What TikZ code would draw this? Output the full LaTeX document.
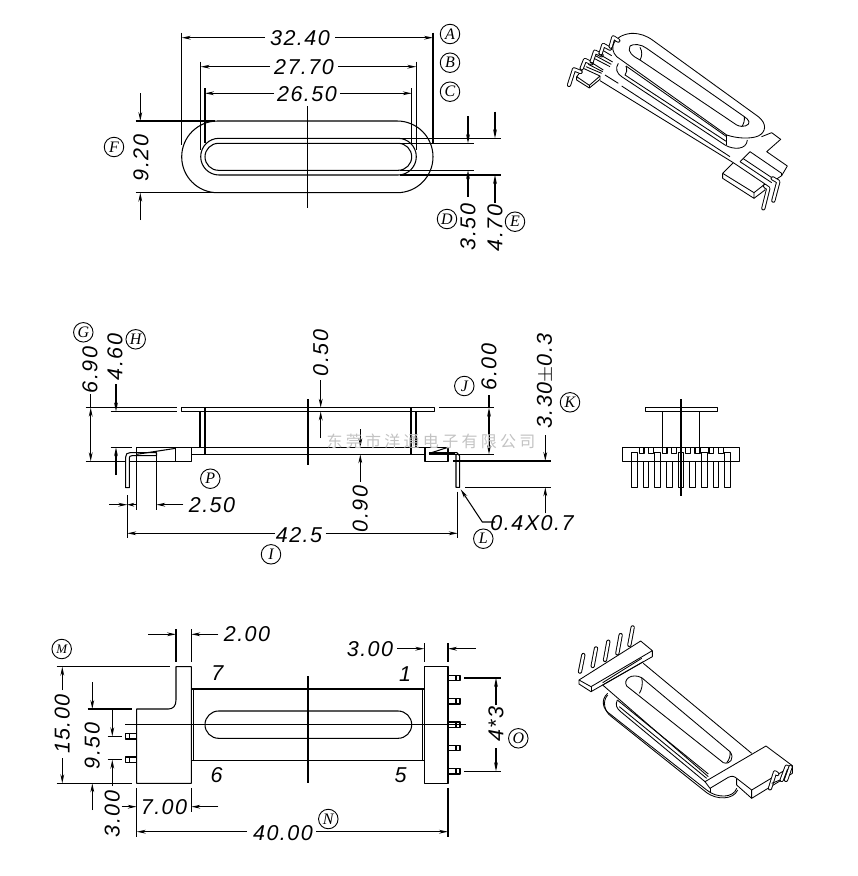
\documentclass[tikz,border=0pt]{standalone}
\usepackage{fontspec}
\usetikzlibrary{arrows.meta}
\setmainfont[LetterSpace=7]{Liberation Sans}
\newfontfamily\cjkfont{Noto Sans CJK SC}
\newfontfamily\tagfont{Liberation Serif}
\tikzset{
 ln/.style={line width=1.05pt,line join=round},
 arr/.style={ln,-{Stealth[length=9pt,width=3.8pt]}},
 dbl/.style={ln,{Stealth[length=9pt,width=3.8pt]}-{Stealth[length=9pt,width=3.8pt]}},
 dimt/.style={inner sep=0pt,font=\fontsize{21.5}{21.5}\selectfont\itshape},
 dimv/.style={dimt,rotate=90},
 tag/.style={circle,draw,line width=0.9pt,minimum size=19.5pt,inner sep=0pt,font=\tagfont\fontsize{16}{16}\selectfont\itshape},
 pinl/.style={line width=0.95pt,double,double distance=2.3pt,line cap=round,line join=round},
 iso/.style={line width=0.85pt,line join=round},
}
\begin{document}
\begin{tikzpicture}[x=1pt,y=-1pt]
\useasboundingbox (0,0) rectangle (858,876);
% ---------- top view
\draw[ln,rounded corners=35.8pt] (181.7,121) rectangle (433,192.7);
\draw[ln,rounded corners=18.3pt] (200.7,138.3) rectangle (416.3,175);
\draw[ln,rounded corners=13.5pt] (205,143.3) rectangle (411.7,170.3);
\draw[ln] (307.7,106) -- (307.7,208);
\draw[ln] (181.7,32.7) -- (181.7,145) (433,32.7) -- (433,143);
\draw[ln] (200.7,61.7) -- (200.7,150) (416.3,61.7) -- (416.3,150);
\draw[ln] (205,88) -- (205,143) (411.7,88) -- (411.7,143);
\draw[arr] (265,37.7) -- (181.7,37.7); \draw[arr] (335,37.7) -- (433,37.7);
\draw[arr] (270,66.7) -- (200.7,66.7); \draw[arr] (338,66.7) -- (416.3,66.7);
\draw[arr] (274,93.3) -- (205,93.3); \draw[arr] (340,93.3) -- (411.7,93.3);
\node[dimt] (d3240) at (300,38) {32.40};
\node[dimt] (d2770) at (304,67) {27.70};
\node[dimt] (d2650) at (307,94) {26.50};
\node[tag] (tA) at (450,34) {A};
\node[tag] (tB) at (450,62.7) {B};
\node[tag] (tC) at (450,91.7) {C};
\draw[ln] (135.7,121) -- (215,121) (135.7,192.7) -- (215,192.7);
\draw[arr] (140.3,93.3) -- (140.3,121); \draw[arr] (140.3,220) -- (140.3,192.7);
\node[dimv] (d920) at (141,158) {9.20};
\node[tag] (tF) at (114,147) {F};
\draw[ln] (400,138.3) -- (500.7,138.3) (400,175) -- (500.7,175);
\draw[ln] (400,143.3) -- (474,143.3) (400,170.3) -- (474,170.3);
\draw[arr] (468,116) -- (468,143.3); \draw[arr] (468,196.7) -- (468,170.3);
\draw[arr] (495,111.7) -- (495,138.3); \draw[arr] (495,202.7) -- (495,175);
\node[dimv] (d350) at (468,227) {3.50};
\node[dimv] (d470) at (495,228) {4.70};
\node[tag] (tD) at (447,219) {D};
\node[tag] (tE) at (515,221.7) {E};
% ---------- side view
\draw[ln] (181.7,407.7) rectangle (434.3,411.5);
\draw[ln] (85.7,407.7) -- (177.3,407.7) (110.7,411.5) -- (177.3,411.5);
\draw[ln] (439,407.7) -- (494.3,407.7);
\draw[ln] (200,411.5) -- (200,447.3) (205,407.7) -- (205,454.3);
\draw[ln] (411,407.7) -- (411,454.3) (416,411.5) -- (416,447.3);
\draw[ln] (110.7,447.3) -- (131.7,447.3) (136.7,447.3) -- (425,447.3);
\draw[ln] (191.7,454.3) -- (425,454.3);
\draw[ln] (308,399) -- (308,465);
\draw[ln] (85.7,461.3) -- (125.7,461.3) (129.3,461.3) -- (191.7,461.3) -- (191.7,447.3);
\draw[ln] (175.7,447.3) -- (175.7,461.3);
\draw[ln] (136.7,454.3) -- (175.7,448.3);
\draw[ln] (125.7,487.7) -- (125.7,457) .. controls (125.7,454) and (127,452.7) .. (130,452.7) -- (156.5,452.7) -- (156.5,455.7) -- (132,455.7) .. controls (130,455.7) and (129.3,456.5) .. (129.3,458) -- (129.3,487.7) -- cycle;
\draw[ln] (136.7,447.3) -- (136.7,510) (156.3,455.7) -- (156.3,510);
\draw[ln] (127.3,495) -- (127.3,538.3);
\draw[arr] (109.3,504.7) -- (127.3,504.7);
\draw[ln,-{Stealth[length=7pt,width=3.8pt]}] (136.7,504.7) -- (127.3,504.7);
\draw[arr] (183.3,504.7) -- (156.3,504.7);
\node[dimt] (d250) at (212,505) {2.50};
\draw[ln] (425,447.3) rectangle (448,461.3);
\draw[ln] (429,453.5) -- (448,447.3);
\draw[line width=2.2pt] (429,454) -- (455,454);
\draw[ln] (456,454.8) -- (456,487.3) -- (459.7,487.3) -- (459.7,456) -- (457,452.7) -- (429,452.7);
\draw[ln] (457.7,491.7) -- (457.7,538.3);
\draw[arr] (275,533.3) -- (127.3,533.3); \draw[arr] (325.7,533.3) -- (457.7,533.3);
\node[dimt] (d425) at (299,535) {42.5};
\node[tag] (tI) at (271,554.3) {I};
\node[tag] (tP) at (210.3,478.7) {P};
\draw[dbl] (90.7,407.7) -- (90.7,461.3); \draw[ln] (90.7,394) -- (90.7,407.7);
\node[dimv] (d690) at (90,370) {6.90};
\node[tag] (tG) at (83.3,332.3) {G};
\draw[arr] (116,384) -- (116,411.5); \draw[arr] (116,475) -- (116,447.3);
\node[dimv] (d460) at (115,357) {4.60};
\node[tag] (tH) at (135.7,339.3) {H};
\draw[arr] (320.7,380) -- (320.7,407.7); \draw[arr] (320.7,438) -- (320.7,411.5);
\node[dimv] (d050) at (320.7,353) {0.50};
\draw[arr] (360.3,429) -- (360.3,447.3); \draw[arr] (360.3,481.7) -- (360.3,454.3);
\node[dimv] (d090) at (360.3,509) {0.90};
\draw[dbl] (489,407.7) -- (489,454.3); \draw[ln] (489,395) -- (489,407.7);
\draw[ln] (448,454.3) -- (494.3,454.3);
\node[dimv] (d600) at (489,367) {6.00};
\node[tag] (tJ) at (464.3,386) {J};
\draw[ln] (453.3,461) -- (550.7,461) (465,487.3) -- (550.7,487.3);
\draw[arr] (545.3,435) -- (545.3,461); \draw[arr] (545.3,513.3) -- (545.3,487.3);
\node[dimv] (d330) at (545.3,381) {3.30$\pm$0.3};
\node[tag] (tK) at (570,402.3) {K};
\coordinate (ldrA) at (460.7,489.3);
\coordinate (ldrB) at (482.3,522);
\coordinate (ldrC) at (495,522);
\draw[arr] (ldrC) -- (ldrB) -- (ldrA);
\node[dimt] (d0407) at (532,523.5) {0.4X0.7};
\node[tag] (tL) at (483.3,538.7) {L};
\node[inner sep=0pt,text=black!24,font=\fontsize{16}{16}\selectfont\cjkfont,text width=220pt,align=center] (wm) at (431,441)
 {东\hspace{3.3pt}莞\hspace{3.3pt}市\hspace{3.3pt}洋\hspace{3.3pt}通\hspace{3.3pt}电\hspace{3.3pt}子\hspace{3.3pt}有\hspace{3.3pt}限\hspace{3.3pt}公\hspace{3.3pt}司};
% ---------- end view
\draw[ln] (645.3,407.7) rectangle (717.3,411.7);
\draw[ln] (662.3,411.7) -- (662.3,447.3) (699.3,411.7) -- (699.3,447.3);
\draw[ln] (622.7,447.3) rectangle (739.7,461.3);
\foreach \a/\b in {118/132,145/160,187/201,215/230,257/271,285/300,327/341,355/370}
  \draw[ln] (600+\a/3,447.3) -- (600+\a/3,453.5) -- (600+\b/3,453.5) -- (600+\b/3,447.3);
\foreach \c in {103,173,243,313,383}
  \draw[ln] (600+\c/3-2.7,452.3) rectangle (600+\c/3+2.7,487.3);
\foreach \c in {138,208,278,348}
  \draw[ln] (600+\c/3-2.7,461.3) rectangle (600+\c/3+2.7,487.3);
\draw[ln] (681,399) -- (681,495.7);
% ---------- bottom view
\draw[ln] (191.3,666.7) -- (176,666.7) -- (176,700) .. controls (176,706) and (173,709) .. (168.3,709) -- (136.7,709) -- (136.7,783.3) -- (191.3,783.3) -- cycle;
\draw[ln] (191.3,689) -- (424.3,689) (191.3,760.3) -- (424.3,760.3);
\draw[ln] (193.3,689) -- (193.3,760.3) (422.7,689) -- (422.7,760.3);
\draw[ln,rounded corners=13.6pt] (205,711) rectangle (411.7,738.3);
\draw[ln] (125,724.7) -- (465.7,724.7);
\draw[ln] (308,676) -- (308,783.3);
\draw[ln] (424.3,666.7) rectangle (448,783.3);
\foreach \y in {678,701.3,724.7,748,771.3} {
  \draw[ln] (448,\y-2.7) rectangle (460,\y+2.7);
  \draw[ln] (456,\y-2.7) -- (456,\y+2.7);
}
\foreach \y in {736.3,759.7} {
  \draw[ln] (125.3,\y-2.7) rectangle (136.7,\y+2.7);
  \draw[ln] (129.3,\y-2.7) -- (129.3,\y+2.7);
}
\node[dimt] (n7) at (217.3,673) {7};
\node[dimt] (n6) at (216.7,775) {6};
\node[dimt] (n1) at (405,674) {1};
\node[dimt] (n5) at (400.7,775) {5};
\draw[ln] (176,629) -- (176,661.7) (191.3,629) -- (191.3,661.7);
\draw[arr] (148.3,634.3) -- (176,634.3); \draw[arr] (218.3,634.3) -- (191.3,634.3);
\node[dimt] (d200) at (247,634.5) {2.00};
\node[tag,font=\tagfont\fontsize{13}{13}\selectfont\itshape] (tM) at (61.7,649) {M};
\draw[ln] (56.7,666.7) -- (170,666.7) (56.7,783.3) -- (131.7,783.3);
\draw[arr] (62.3,690) -- (62.3,666.7); \draw[arr] (62.3,758.3) -- (62.3,783.3);
\node[dimv] (d1500) at (62.3,724) {15.00};
\draw[ln] (87.7,709) -- (131.7,709);
\draw[arr] (92.3,682.3) -- (92.3,709); \draw[arr] (92.3,810) -- (92.3,783.3);
\node[dimv] (d950) at (92.3,746) {9.50};
\draw[ln] (107.7,736.3) -- (121.7,736.3) (107.7,759.7) -- (121.7,759.7);
\draw[arr] (112.3,709) -- (112.3,736.3); \draw[arr] (112.3,786) -- (112.3,759.7);
\node[dimv] (d300) at (112.3,814) {3.00};
\draw[ln] (136.7,788) -- (136.7,836.7) (191.3,788) -- (191.3,811.7);
\draw[arr] (121.7,806.7) -- (136.7,806.7); \draw[arr] (218.3,806.7) -- (191.3,806.7);
\node[dimt] (d700) at (164,807) {7.00};
\draw[ln] (448,788) -- (448,836.7);
\draw[arr] (247,831.7) -- (136.7,831.7); \draw[arr] (316,831.7) -- (448,831.7);
\node[dimt] (d4000) at (283,833) {40.00};
\node[tag] (tN) at (328.3,819) {N};
\draw[ln] (424.3,643) -- (424.3,661.7) (448,643) -- (448,661.7);
\draw[arr] (397.3,648.7) -- (424.3,648.7); \draw[arr] (475.7,648.7) -- (448,648.7);
\node[dimt] (d300b) at (370,649) {3.00};
\draw[ln] (464,678) -- (500.7,678) (464,771.3) -- (500.7,771.3);
\draw[arr] (496,705) -- (496,678); \draw[arr] (496,748) -- (496,771.3);
\node[dimv] (d43) at (496,724) {4*3};
\node[tag] (tO) at (518.3,738.3) {O};
% ---------- iso top
\begin{scope}[shift={(550,10)},x=0.33333pt,y=-0.33333pt]
\draw[iso] (200,140) .. controls (175,115) and (190,75) .. (245,70) .. controls (270,70) and (290,77) .. (310,92) -- (625,320) .. controls (650,340) and (650,365) .. (625,378) .. controls (600,388) and (560,385) .. (530,375) -- cycle;
\draw[iso] (240,108) .. controls (230,125) and (250,140) .. (270,150) -- (560,345) .. controls (580,355) and (600,345) .. (597,335) .. controls (595,328) and (590,326) .. (583,320) -- (290,115) .. controls (275,103) and (250,100) .. (240,108);
\draw[iso] (270,112) .. controls (278,125) and (276,140) .. (270,150);
\draw[iso] (583,320) .. controls (585,330) and (580,345) .. (575,350);
\draw[iso] (205,160) .. controls (195,175) and (200,190) .. (215,200) -- (525,405) .. controls (550,420) and (590,420) .. (592,390);
\draw[iso] (228,168) .. controls (232,180) and (230,190) .. (225,195) -- (530,395);
\draw[iso] (228,168) -- (530,380);
\draw[iso] (530,375) -- (530,405);
\draw[iso] (165,195) -- (205,220) (215,228) -- (540,440);
\draw[iso] (150,212) -- (550,458);
% left block
\draw[iso] (80,200) -- (100,175) -- (150,198) -- (118,226) -- cycle;
\draw[iso] (80,200) -- (80,210) -- (118,234) -- (150,208) -- (150,198);
\draw[iso] (118,226) -- (118,234);
\draw[pinl] (57,225) -- (72,178) -- (92,186);
\foreach \xa/\ya/\xb/\yb/\xc/\yc in {95/175/105/150/125/160,125/155/135/125/155/136,152/130/160/105/180/116,182/110/190/82/205/92}
  \draw[pinl] (\xa,\ya) -- (\xb,\yb) -- (\xc,\yc);
\draw[iso] (108,170) -- (155,190) (115,163) -- (158,185) (122,156) -- (160,180);
\draw[iso] (132,145) -- (180,170) (138,138) -- (184,163) (145,131) -- (188,156);
\draw[iso] (160,122) -- (185,137);
% right block
\draw[iso] (518,490) -- (550,458) -- (645,522) -- (612,548) -- cycle;
\draw[iso] (518,490) -- (518,505) -- (612,565) -- (612,548);
\draw[iso] (612,565) -- (645,540) -- (645,522);
\draw[iso] (570,455) -- (600,425) -- (695,490);
\draw[iso] (570,455) -- (665,518) (580,446) -- (673,508);
\draw[iso] (640,378) -- (635,380) -- (665,368) -- (692,388) -- (650,425) -- (712,468) -- (695,497) -- (680,507);
\draw[iso] (695,490) -- (695,497);
\draw[pinl] (640,595) -- (655,535) -- (645,528);
\draw[pinl] (670,572) -- (685,515) -- (668,505);
\end{scope}
% ---------- iso bottom
\begin{scope}[shift={(560,610)},x=0.33333pt,y=-0.33333pt]
\draw[iso] (57,210) -- (242,93) -- (277,122) -- (93,230) -- cycle;
\draw[iso] (57,210) -- (57,222) -- (93,245) -- (277,140) -- (277,122);
\draw[iso] (93,230) -- (93,245);
\foreach \xa/\ya/\xb/\yb in {60/185/70/135,98/168/108/115,135/150/145/95,172/130/182/75,208/105/218/52}
  \draw[pinl] (\xa,\ya) -- (\xb,\yb);
\draw[iso] (128,218) -- (245,145) (128,225) -- (250,155);
\draw[iso] (128,225) -- (445,500);
\draw[iso] (250,160) -- (575,430);
\draw[iso] (200,228) .. controls (188,208) and (215,188) .. (245,203) -- (510,425) .. controls (525,445) and (510,465) .. (490,458) -- cycle;
\draw[iso] (245,203) .. controls (250,220) and (245,240) .. (238,250);
\draw[iso] (510,425) .. controls (512,435) and (508,450) .. (500,458);
\draw[iso] (435,515) -- (618,408) -- (697,467) -- (575,540) -- (530,505) .. controls (522,498) and (515,497) .. (505,502) -- (450,535) -- cycle;
\draw[iso] (450,535) -- (450,548);
\draw[iso] (575,540) -- (575,565) -- (697,490) -- (697,467);
\draw[iso] (530,505) -- (530,525) -- (575,565);
\draw[iso] (143,250) .. controls (120,270) and (130,300) .. (150,312) -- (440,540) .. controls (470,565) and (520,565) .. (530,535);
\draw[iso] (143,255) .. controls (125,275) and (135,305) .. (152,318) -- (440,548) .. controls (470,570) and (520,570) .. (533,540);
\draw[iso] (172,270) .. controls (165,285) and (170,295) .. (182,305) -- (435,515);
\draw[iso] (172,270) -- (445,492);
\draw[iso] (178,290) -- (440,505);
\draw[pinl] (630,535) -- (645,487) -- (652,492);
\draw[pinl] (665,510) -- (680,470) -- (686,474);
\draw[pinl] (678,510) -- (692,470);
\draw[iso] (635,520) -- (660,510);
\end{scope}
\end{tikzpicture}
\end{document}
